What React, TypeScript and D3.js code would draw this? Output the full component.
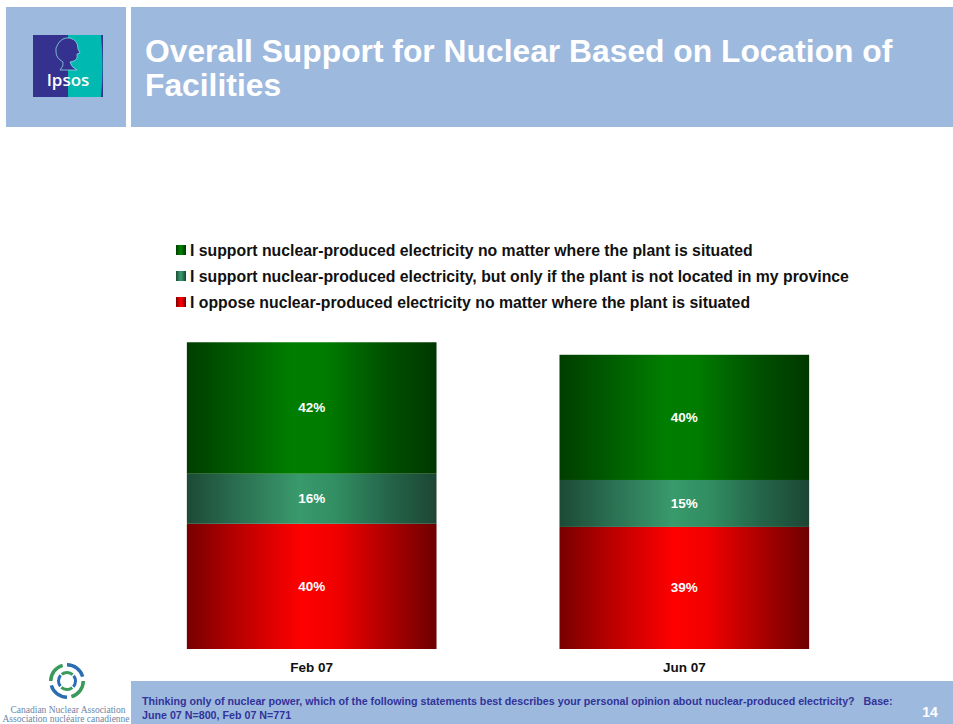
import React from "react";
import * as d3 from "d3";

const categories = ["Feb 07", "Jun 07"];
const supportAnywhere = [42, 40];
const supportNotProvince = [16, 15];
const opposeAnywhere = [40, 39];
const seriesKeys = ["oppose", "notProvince", "anywhere"];
const legendLabels = [
  "I support nuclear-produced electricity no matter where the plant is situated",
  "I support nuclear-produced electricity, but only if the plant is not located in my province",
  "I oppose nuclear-produced electricity no matter where the plant is situated",
];
const legendKeys = ["anywhere", "notProvince", "oppose"];
const titleLines = ["Overall Support for Nuclear Based on Location of", "Facilities"];
const footnoteLines = [
  "Thinking only of nuclear power, which of the following statements best describes your personal opinion about nuclear-produced electricity?   Base:",
  "June 07 N=800, Feb 07 N=771",
];
const pageNumber = "14";

const W = 953;
const H = 724;
const FONT = "'Liberation Sans', Arial, Helvetica, sans-serif";

const gradStops: Record<string, [number, string][]> = {
  anywhere: [
    [0, "#003d00"],
    [0.2, "#005c00"],
    [0.42, "#007e00"],
    [0.55, "#007c00"],
    [0.8, "#005000"],
    [1, "#003800"],
  ],
  notProvince: [
    [0, "#1c4a36"],
    [0.2, "#2a6e50"],
    [0.45, "#399a6c"],
    [0.6, "#318e62"],
    [0.8, "#25664a"],
    [1, "#1c4634"],
  ],
  oppose: [
    [0, "#780000"],
    [0.2, "#b80000"],
    [0.46, "#ff0000"],
    [0.6, "#f00000"],
    [0.82, "#a80000"],
    [1, "#6e0000"],
  ],
};

export default function App() {
  const data = categories.map((c, i) => ({
    cat: c,
    anywhere: supportAnywhere[i],
    notProvince: supportNotProvince[i],
    oppose: opposeAnywhere[i],
  }));
  const stack = d3.stack<any>().keys(seriesKeys)(data);

  const x = d3
    .scaleBand()
    .domain(categories)
    .range([125, 871])
    .paddingInner(0.33)
    .paddingOuter(0.166);
  const y = d3.scaleLinear().domain([0, 100]).range([649, 336]);

  // CNA swirl arcs
  const arc = d3.arc();
  const swirl = [0, 90, 180, 270].map((deg, i) => {
    const a0 = (deg * Math.PI) / 180;
    return {
      outer: arc({ innerRadius: 14.5, outerRadius: 18, startAngle: a0, endAngle: a0 + 1.3 }) as string,
      inner: arc({ innerRadius: 7, outerRadius: 10, startAngle: a0 + 0.9, endAngle: a0 + 2.3 }) as string,
      color: i % 2 === 0 ? "#2a6db0" : "#3a9a5a",
    };
  });

  return (
    <svg
      width={W}
      height={H}
      style={{ position: "absolute", left: 0, top: 0, background: "#fff" }}
      fontFamily={FONT}
    >
      <defs>
        {seriesKeys.map((k) => (
          <linearGradient key={k} id={`g-${k}`} x1="0" x2="1" y1="0" y2="0">
            {gradStops[k].map(([o, c], j) => (
              <stop key={j} offset={o} stopColor={c} />
            ))}
          </linearGradient>
        ))}
      </defs>

      {/* Header */}
      <rect x={6} y={7} width={120} height={120} fill="#9db9de" />
      <rect x={131} y={7} width={822} height={120} fill="#9db9de" />
      {/* Ipsos logo */}
      <rect x={33} y={35} width={70} height={62} fill="#34318f" />
      <path d="M68,35 L101,35 Q104,66 101,97 L68,97 Z" fill="#00b9b0" />
      <path
        d="M58,44 Q62,37 70,38 Q78,40 78,49 L80,53 L77,54 Q78,59 74,61 L70,62 Q71,67 77,70 L60,70 Q64,66 63,62 Q56,58 56,52 Q55,48 58,44 Z"
        fill="#34318f"
        stroke="#8fd8e0"
        strokeWidth={0.8}
      />
      <text x={68} y={86} textAnchor="middle" fill="#fff" fontSize={17} fontFamily="'Open Sans', sans-serif" fontWeight={600}>
        Ipsos
      </text>
      {titleLines.map((t, i) => (
        <text key={i} x={145} y={62 + i * 34} fill="#fff" fontSize={31.8} fontWeight="bold">
          {t}
        </text>
      ))}

      {/* Legend */}
      {legendKeys.map((k, i) => (
        <g key={k} transform={`translate(176, ${245 + i * 26})`}>
          <rect x={0} y={0} width={10} height={10} fill={`url(#g-${k})`} />
          <text x={14} y={11} fontSize={15.8} fontWeight="bold" fill="#111">
            {legendLabels[i]}
          </text>
        </g>
      ))}

      {/* Bars */}
      {stack.map((s) =>
        s.map((d, i) => {
          const x0 = x(categories[i])!;
          const y0 = y(d[1]);
          const h = y(d[0]) - y(d[1]);
          const val = d[1] - d[0];
          return (
            <g key={`${s.key}-${i}`}>
              <rect x={x0} y={y0} width={x.bandwidth()} height={h} fill={`url(#g-${s.key})`} />
              <text
                x={x0 + x.bandwidth() / 2}
                y={y0 + h / 2 + 4.5}
                textAnchor="middle"
                fill="#fff"
                fontSize={13.5}
                fontWeight="bold"
              >
                {`${val}%`}
              </text>
            </g>
          );
        })
      )}
      {categories.map((c) => (
        <text
          key={c}
          x={x(c)! + x.bandwidth() / 2}
          y={672}
          textAnchor="middle"
          fontSize={13.5}
          fontWeight="bold"
          fill="#111"
        >
          {c}
        </text>
      ))}

      {/* Footer */}
      <rect x={131} y={681} width={822} height={43} fill="#9db9de" />
      {footnoteLines.map((t, i) => (
        <text key={i} x={142} y={705 + i * 14} fontSize={10.7} fontWeight="bold" fill="#333399" style={{ whiteSpace: "pre" }}>
          {t}
        </text>
      ))}
      <text x={930} y={717} fontSize={14} fontWeight="bold" fill="#fff" textAnchor="middle">
        {pageNumber}
      </text>

      {/* CNA logo */}
      <g transform="translate(67, 681)">
        {swirl.map((s, i) => (
          <g key={i}>
            <path d={s.outer} fill={s.color} />
            <path d={s.inner} fill={s.color} />
          </g>
        ))}
      </g>
      <text x={68} y={713} textAnchor="middle" fontSize={9.5} fontFamily="'Liberation Serif', serif" fill="#6a86a6">
        Canadian Nuclear Association
      </text>
      <text x={66} y={722} textAnchor="middle" fontSize={9.5} fontFamily="'Liberation Serif', serif" fill="#6a86a6">
        Association nucléaire canadienne
      </text>
    </svg>
  );
}
